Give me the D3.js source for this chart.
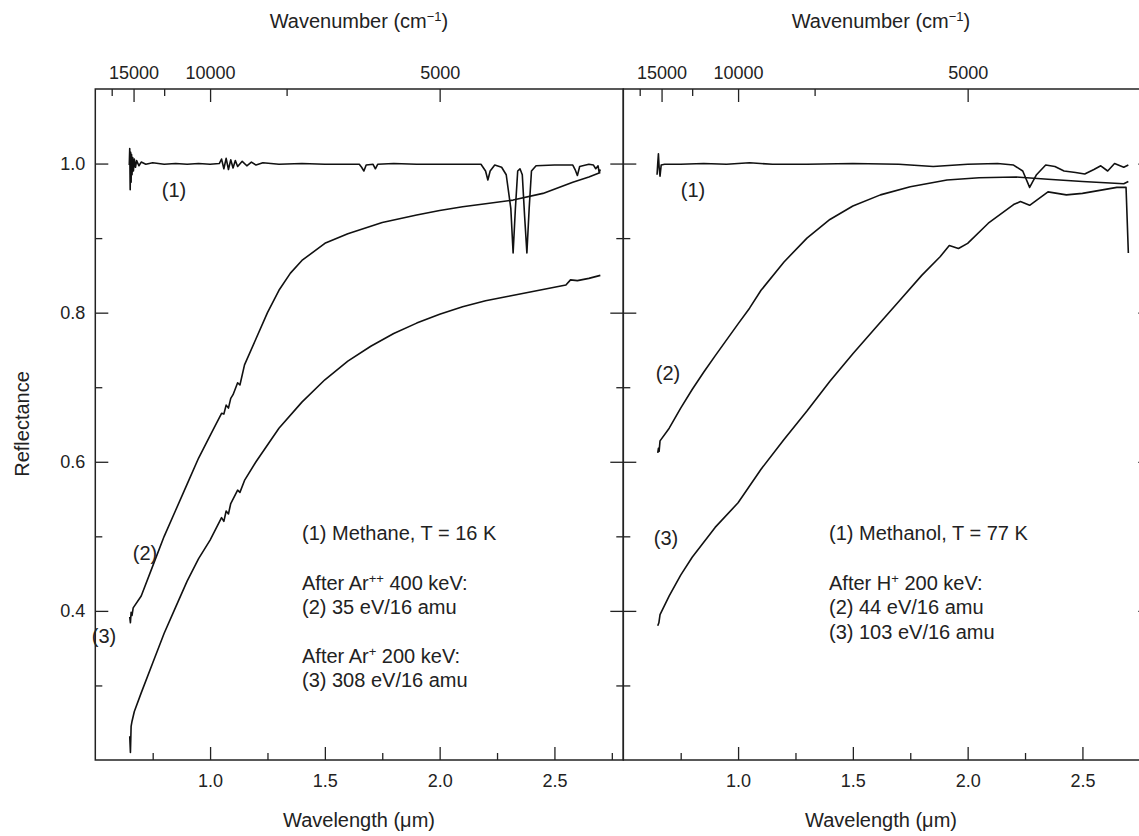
<!DOCTYPE html>
<html>
<head>
<meta charset="utf-8">
<script src="https://cdn.jsdelivr.net/npm/d3@7"></script>
<style>
  body { margin: 0; background: #fff; }
  svg { font-family: "Liberation Sans", Arial, sans-serif; }
  .tick text { font-size: 18px; fill: #222; }
  .tick line { stroke: #222; stroke-width: 1.3; }
</style>
</head>
<body>
<div id="chart"></div>
<script>
// wavelength (um) ticks and wavenumber (cm-1) ticks
var majorWl = [1.0, 1.5, 2.0, 2.5];
var minorWl = [0.75, 1.25, 1.75, 2.25, 2.75];
var majorWn = [15000, 10000, 5000];
var minorWn = [17500, 12500, 7500];
var majorR = [0.4, 0.6, 0.8, 1.0];
var minorR = [0.3, 0.5, 0.7, 0.9];

// left panel: methane, [wavelength, reflectance]
var methane1 = [[0.648,0.998],[0.650,1.020],[0.652,0.965],[0.654,1.015],[0.656,0.975],[0.658,1.012],[0.660,0.985],
  [0.663,1.008],[0.666,0.990],[0.670,1.006],[0.675,0.995],[0.680,1.004],[0.690,0.997],[0.700,1.002],[0.720,0.999],
  [0.750,1.001],[0.800,0.999],[0.850,1.000],[0.900,0.999],[0.950,1.000],[1.000,0.999],[1.040,1.000],[1.050,1.006],
  [1.060,0.993],[1.070,1.007],[1.080,0.992],[1.090,1.005],[1.100,0.994],[1.110,1.004],[1.120,0.996],[1.140,1.003],
  [1.160,0.997],[1.180,1.002],[1.200,0.998],[1.230,1.001],[1.300,0.999],[1.400,1.000],[1.500,0.999],[1.600,0.999],
  [1.650,0.999],[1.660,0.995],[1.670,0.990],[1.680,0.998],[1.710,0.999],[1.720,0.993],[1.730,0.999],[1.800,1.000],
  [1.900,0.999],[2.000,0.999],[2.100,0.999],[2.180,0.999],[2.200,0.990],[2.210,0.978],[2.220,0.990],[2.240,0.998],
  [2.270,0.995],[2.290,0.985],[2.310,0.940],[2.320,0.880],[2.330,0.940],[2.340,0.990],[2.350,0.993],[2.360,0.985],
  [2.370,0.930],[2.380,0.880],[2.390,0.940],[2.400,0.990],[2.420,0.997],[2.500,0.998],[2.580,0.998],[2.590,0.992],
  [2.600,0.984],[2.610,0.996],[2.650,0.999],[2.670,0.998],[2.680,0.993],[2.690,0.997],[2.695,0.988],[2.700,0.992]];
var methane2 = [[0.650,0.392],[0.653,0.384],[0.656,0.398],[0.660,0.394],[0.665,0.404],[0.700,0.420],[0.750,0.460],
  [0.800,0.500],[0.850,0.535],[0.900,0.570],[0.950,0.605],[1.000,0.635],[1.050,0.665],[1.060,0.664],[1.070,0.676],
  [1.080,0.672],[1.090,0.685],[1.100,0.690],[1.120,0.706],[1.130,0.703],[1.150,0.730],[1.200,0.765],[1.250,0.800],
  [1.300,0.830],[1.350,0.853],[1.400,0.870],[1.500,0.893],[1.600,0.906],[1.750,0.921],[1.900,0.931],[2.000,0.937],
  [2.100,0.942],[2.200,0.946],[2.320,0.951],[2.450,0.960],[2.580,0.975],[2.650,0.982],[2.700,0.988]];
var methane3 = [[0.650,0.232],[0.653,0.210],[0.656,0.245],[0.660,0.252],[0.670,0.265],[0.700,0.290],[0.750,0.330],
  [0.800,0.370],[0.850,0.405],[0.900,0.440],[0.950,0.470],[1.000,0.495],[1.050,0.525],[1.060,0.520],[1.070,0.534],
  [1.080,0.530],[1.090,0.544],[1.100,0.550],[1.120,0.562],[1.130,0.559],[1.150,0.575],[1.200,0.600],[1.300,0.645],
  [1.400,0.680],[1.500,0.710],[1.600,0.735],[1.700,0.755],[1.800,0.772],[1.900,0.786],[2.000,0.798],[2.100,0.808],
  [2.200,0.816],[2.300,0.822],[2.400,0.828],[2.500,0.834],[2.550,0.837],[2.570,0.844],[2.600,0.843],[2.650,0.846],
  [2.700,0.850]];

// right panel: methanol
var methanol1 = [[0.647,0.985],[0.650,1.000],[0.653,1.013],[0.656,0.995],[0.660,0.983],[0.665,0.998],[0.680,0.999],
  [0.750,0.999],[0.850,1.000],[0.950,0.999],[1.050,1.001],[1.150,0.999],[1.300,0.999],[1.500,1.000],[1.700,0.999],
  [1.850,0.996],[2.000,0.999],[2.130,1.000],[2.200,0.998],[2.240,0.990],[2.270,0.968],[2.300,0.985],[2.340,0.998],
  [2.380,0.996],[2.420,0.990],[2.470,0.988],[2.510,0.986],[2.550,0.992],[2.580,0.997],[2.610,0.990],[2.640,1.000],
  [2.680,0.995],[2.700,0.998]];
var methanol2 = [[0.650,0.612],[0.653,0.618],[0.656,0.614],[0.660,0.628],[0.700,0.645],[0.750,0.672],[0.800,0.697],
  [0.850,0.720],[0.900,0.742],[1.000,0.785],[1.050,0.806],[1.100,0.830],[1.200,0.868],[1.300,0.900],[1.400,0.925],
  [1.500,0.943],[1.620,0.958],[1.750,0.969],[1.910,0.978],[2.050,0.981],[2.210,0.982],[2.350,0.979],[2.500,0.976],
  [2.680,0.973],[2.700,0.976]];
var methanol3 = [[0.650,0.380],[0.655,0.384],[0.660,0.395],[0.700,0.420],[0.750,0.448],[0.800,0.472],[0.900,0.512],
  [1.000,0.545],[1.100,0.590],[1.200,0.630],[1.300,0.668],[1.400,0.708],[1.500,0.745],[1.600,0.780],[1.700,0.815],
  [1.800,0.850],[1.880,0.875],[1.920,0.890],[1.960,0.886],[2.000,0.893],[2.090,0.920],[2.200,0.945],[2.230,0.949],
  [2.270,0.944],[2.350,0.962],[2.430,0.958],[2.500,0.960],[2.650,0.968],[2.690,0.968],[2.700,0.880]];

var width = 1139, height = 836;
var svg = d3.select("#chart").append("svg")
    .attr("width", width).attr("height", height);

var y = d3.scaleLinear().domain([0.2, 1.1]).range([760, 89]);
var panels = [
  { x0: 95.3, tx: 359, series: [methane1, methane2, methane3] },
  { x0: 623.3, tx: 881, series: [methanol1, methanol2, methanol3] }
];
var pw = 528;

panels.forEach(function(p, i) {
  var x = d3.scaleLinear().domain([0.5, 2.8]).range([p.x0, p.x0 + pw]);
  var g = svg.append("g");

  // bottom axis
  g.append("g").attr("transform", "translate(0,760)")
    .call(d3.axisBottom(x).tickValues(majorWl).tickFormat(d3.format(".1f")).tickSize(-13).tickPadding(14))
    .call(function(a) { a.select(".domain").remove(); });
  g.append("g").attr("transform", "translate(0,760)")
    .call(d3.axisBottom(x).tickValues(minorWl).tickFormat("").tickSize(-7))
    .call(function(a) { a.select(".domain").remove(); });

  // top axis (wavenumber)
  g.append("g").attr("transform", "translate(0,89)")
    .call(d3.axisTop(x).tickValues(majorWn.map(function(d) { return 1e4 / d; }))
      .tickFormat(function(d) { return Math.round(1e4 / d); }).tickSize(-13).tickPadding(10))
    .call(function(a) { a.select(".domain").remove(); });
  g.append("g").attr("transform", "translate(0,89)")
    .call(d3.axisTop(x).tickValues(minorWn.map(function(d) { return 1e4 / d; })).tickFormat("").tickSize(-7))
    .call(function(a) { a.select(".domain").remove(); });

  // left / right y ticks
  var left = d3.axisLeft(y).tickValues(majorR).tickSize(-13).tickPadding(10).tickFormat(d3.format(".1f"));
  if (i > 0) left.tickFormat("");
  g.append("g").attr("transform", "translate(" + p.x0 + ",0)").call(left)
    .call(function(a) { a.select(".domain").remove(); });
  g.append("g").attr("transform", "translate(" + p.x0 + ",0)")
    .call(d3.axisLeft(y).tickValues(minorR).tickSize(-7).tickFormat(""))
    .call(function(a) { a.select(".domain").remove(); });
  g.append("g").attr("transform", "translate(" + (p.x0 + pw) + ",0)")
    .call(d3.axisRight(y).tickValues(majorR).tickSize(-13).tickFormat(""))
    .call(function(a) { a.select(".domain").remove(); });
  g.append("g").attr("transform", "translate(" + (p.x0 + pw) + ",0)")
    .call(d3.axisRight(y).tickValues(minorR).tickSize(-7).tickFormat(""))
    .call(function(a) { a.select(".domain").remove(); });

  // frame
  g.append("rect").attr("x", p.x0).attr("y", 89).attr("width", pw).attr("height", 671)
    .attr("fill", "none").attr("stroke", "#222").attr("stroke-width", 1.5);

  // curves
  var line = d3.line().x(function(d) { return x(d[0]); }).y(function(d) { return y(d[1]); });
  p.series.forEach(function(s) {
    g.append("path").datum(s).attr("d", line)
      .attr("fill", "none").attr("stroke", "#111").attr("stroke-width", 1.6)
      .attr("stroke-linejoin", "round");
  });

  // titles
  var top = g.append("text").attr("x", p.tx).attr("y", 28).attr("text-anchor", "middle")
    .attr("font-size", 20).attr("fill", "#222");
  top.append("tspan").text("Wavenumber (cm");
  top.append("tspan").attr("font-size", 13).attr("dy", -7).text("\u22121");
  top.append("tspan").attr("dy", 7).text(")");
  g.append("text").attr("x", p.tx).attr("y", 827).attr("text-anchor", "middle")
    .attr("font-size", 20).attr("fill", "#222").text("Wavelength (\u03bcm)");
});

// y title
svg.append("text").attr("transform", "translate(29,424) rotate(-90)")
  .attr("text-anchor", "middle").attr("font-size", 20).attr("fill", "#222").text("Reflectance");

// curve labels
var curveLabels = [
  { t: "(1)", x: 174, y: 197 }, { t: "(2)", x: 145, y: 560 }, { t: "(3)", x: 104, y: 643 },
  { t: "(1)", x: 693, y: 197 }, { t: "(2)", x: 668, y: 380 }, { t: "(3)", x: 666, y: 545 }
];
svg.selectAll(".clabel").data(curveLabels).enter().append("text")
  .attr("x", function(d) { return d.x; }).attr("y", function(d) { return d.y; })
  .attr("text-anchor", "middle").attr("font-size", 20).attr("fill", "#222")
  .text(function(d) { return d.t; });

// legend text blocks
function block(x0, lines) {
  lines.forEach(function(l) {
    var t = svg.append("text").attr("x", x0).attr("y", l.y).attr("font-size", 20).attr("fill", "#222");
    l.parts.forEach(function(pt) {
      var ts = t.append("tspan").text(pt[0]);
      if (pt[1]) ts.attr("font-size", 13).attr("dy", -7);
      else if (pt[2]) ts.attr("dy", 7);
    });
  });
}
block(302, [
  { y: 540, parts: [["(1) Methane, T = 16 K"]] },
  { y: 590, parts: [["After Ar"], ["++", true], [" 400 keV:", false, true]] },
  { y: 614, parts: [["(2) 35 eV/16 amu"]] },
  { y: 663, parts: [["After Ar"], ["+", true], [" 200 keV:", false, true]] },
  { y: 687, parts: [["(3) 308 eV/16 amu"]] }
]);
block(829, [
  { y: 540, parts: [["(1) Methanol, T = 77 K"]] },
  { y: 590, parts: [["After H"], ["+", true], [" 200 keV:", false, true]] },
  { y: 614, parts: [["(2) 44 eV/16 amu"]] },
  { y: 639, parts: [["(3) 103 eV/16 amu"]] }
]);
</script>
</body>
</html>
